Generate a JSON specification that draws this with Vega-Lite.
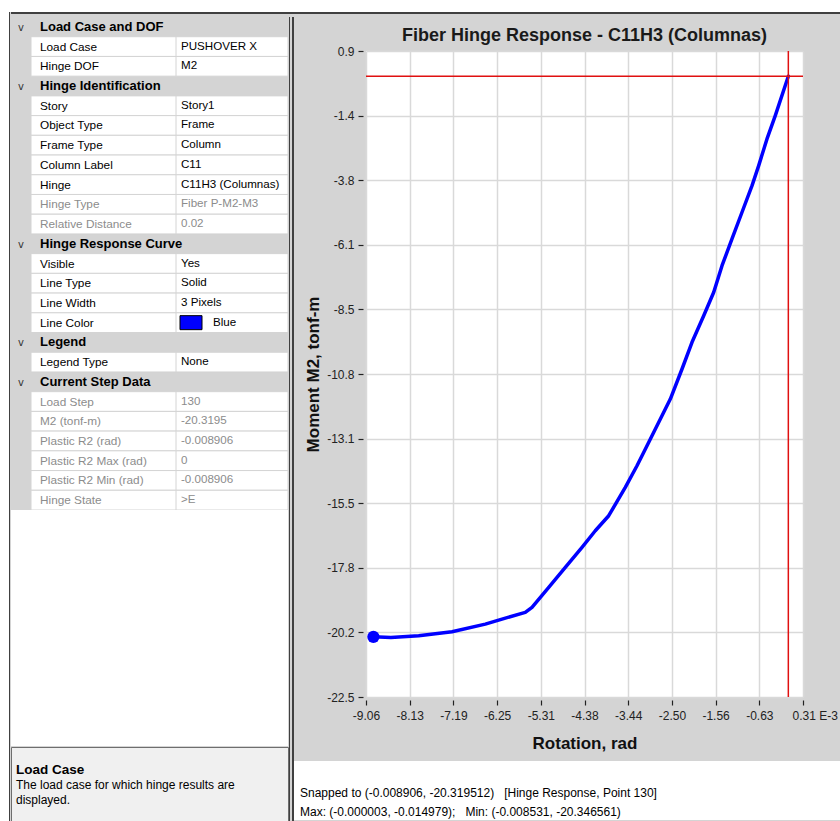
{
  "$schema": "https://vega.github.io/schema/vega-lite/v6.json",
  "background": "#d4d4d4",
  "padding": 0,
  "config": {
    "view": {"stroke": null},
    "concat": {"spacing": 0},
    "font": "Liberation Sans",
    "locale": {"number": {"decimal": ".", "thousands": ",", "grouping": [3], "currency": ["$", ""], "minus": "-"}}
  },
  "datasets": {
    "blank": [{}],
    "grid": [
      {"row": 1, "kind": "header", "name": "Load Case and DOF", "value": ""},
      {"row": 2, "kind": "item", "name": "Load Case", "value": "PUSHOVER X"},
      {"row": 3, "kind": "item", "name": "Hinge DOF", "value": "M2"},
      {"row": 4, "kind": "header", "name": "Hinge Identification", "value": ""},
      {"row": 5, "kind": "item", "name": "Story", "value": "Story1"},
      {"row": 6, "kind": "item", "name": "Object Type", "value": "Frame"},
      {"row": 7, "kind": "item", "name": "Frame Type", "value": "Column"},
      {"row": 8, "kind": "item", "name": "Column Label", "value": "C11"},
      {"row": 9, "kind": "item", "name": "Hinge", "value": "C11H3 (Columnas)"},
      {"row": 10, "kind": "readonly", "name": "Hinge Type", "value": "Fiber P-M2-M3"},
      {"row": 11, "kind": "readonly", "name": "Relative Distance", "value": "0.02"},
      {"row": 12, "kind": "header", "name": "Hinge Response Curve", "value": ""},
      {"row": 13, "kind": "item", "name": "Visible", "value": "Yes"},
      {"row": 14, "kind": "item", "name": "Line Type", "value": "Solid"},
      {"row": 15, "kind": "item", "name": "Line Width", "value": "3 Pixels"},
      {"row": 16, "kind": "item", "name": "Line Color", "value": "Blue"},
      {"row": 17, "kind": "header", "name": "Legend", "value": ""},
      {"row": 18, "kind": "item", "name": "Legend Type", "value": "None"},
      {"row": 19, "kind": "header", "name": "Current Step Data", "value": ""},
      {"row": 20, "kind": "readonly", "name": "Load Step", "value": "130"},
      {"row": 21, "kind": "readonly", "name": "M2 (tonf-m)", "value": "-20.3195"},
      {"row": 22, "kind": "readonly", "name": "Plastic R2 (rad)", "value": "-0.008906"},
      {"row": 23, "kind": "readonly", "name": "Plastic R2 Max (rad)", "value": "0"},
      {"row": 24, "kind": "readonly", "name": "Plastic R2 Min (rad)", "value": "-0.008906"},
      {"row": 25, "kind": "readonly", "name": "Hinge State", "value": ">E"}
    ],
    "curve": [
      {"rot": -0.003, "m2": -0.015},
      {"rot": -0.283, "m2": -1.441},
      {"rot": -0.461, "m2": -2.285},
      {"rot": -0.639, "m2": -3.252},
      {"rot": -0.782, "m2": -3.977},
      {"rot": -0.997, "m2": -4.941},
      {"rot": -1.212, "m2": -5.908},
      {"rot": -1.426, "m2": -6.876},
      {"rot": -1.604, "m2": -7.84},
      {"rot": -1.819, "m2": -8.688},
      {"rot": -2.07, "m2": -9.651},
      {"rot": -2.284, "m2": -10.619},
      {"rot": -2.535, "m2": -11.706},
      {"rot": -2.821, "m2": -12.673},
      {"rot": -3.035, "m2": -13.398},
      {"rot": -3.25, "m2": -14.123},
      {"rot": -3.501, "m2": -14.905},
      {"rot": -3.857, "m2": -15.934},
      {"rot": -4.145, "m2": -16.478},
      {"rot": -4.43, "m2": -17.079},
      {"rot": -4.788, "m2": -17.804},
      {"rot": -5.144, "m2": -18.529},
      {"rot": -5.503, "m2": -19.253},
      {"rot": -5.647, "m2": -19.435},
      {"rot": -6.146, "m2": -19.677},
      {"rot": -6.505, "m2": -19.859},
      {"rot": -7.219, "m2": -20.138},
      {"rot": -7.934, "m2": -20.282},
      {"rot": -8.531, "m2": -20.347},
      {"rot": -8.906, "m2": -20.3195}
    ],
    "current": [{"rot": -8.906, "m2": -20.3195}],
    "cross": [{"rot": -0.003, "m2": -0.014979}],
    "help": [
      {"line": 1, "bold": true, "text": "Load Case"},
      {"line": 2, "bold": false, "text": "The load case for which hinge results are"},
      {"line": 3, "bold": false, "text": "displayed."}
    ],
    "status": [
      {"line": 1, "text": "Snapped to (-0.008906, -20.319512)\u00a0\u00a0 [Hinge Response, Point 130]"},
      {"line": 2, "text": "Max: (-0.000003, -0.014979);\u00a0\u00a0 Min: (-0.008531, -20.346561)"}
    ]
  },
  "spacing": 0,
  "vconcat": [
    {
      "width": 840, "height": 12,
      "view": {"fill": "white", "stroke": null},
      "data": {"name": "blank"},
      "mark": {"type": "point", "size": 0, "opacity": 0}
    },
    {
      "spacing": 0,
      "hconcat": [
        {
          "width": 9, "height": 809,
          "view": {"fill": "white", "stroke": null},
          "data": {"name": "blank"},
          "mark": {"type": "point", "size": 0, "opacity": 0}
        },
        {
          "width": 1, "height": 809,
          "view": {"fill": "#404040", "stroke": null},
          "data": {"name": "blank"},
          "mark": {"type": "point", "size": 0, "opacity": 0}
        },
        {
          "spacing": 0,
          "vconcat": [
            {
              "width": 830, "height": 2,
              "view": {"fill": "#404040", "stroke": null},
              "data": {"name": "blank"},
              "mark": {"type": "point", "size": 0, "opacity": 0}
            },
            {
              "width": 830, "height": 3,
              "data": {"name": "blank"},
              "mark": {"type": "point", "size": 0, "opacity": 0}
            },
            {
              "spacing": 0,
              "hconcat": [
                {
                  "spacing": 0,
                  "vconcat": [
                    {
                      "spacing": 0,
                      "bounds": "flush",
                      "hconcat": [
                        {
                          "width": 20, "height": {"step": 19.72},
                          "data": {"name": "grid"},
                          "mark": {"type": "text", "font": "DejaVu Sans", "fontSize": 10, "color": "#333333", "baseline": "middle", "dy": 1},
                          "encoding": {
                            "y": {"field": "row", "type": "ordinal", "axis": null, "scale": {"type": "band", "domain": [1,2,3,4,5,6,7,8,9,10,11,12,13,14,15,16,17,18,19,20,21,22,23,24,25], "paddingInner": 0, "paddingOuter": 0}},
                            "text": {"condition": {"test": "datum.kind == 'header'", "value": "v"}, "value": ""}
                          }
                        },
                        {
                          "width": 145, "height": {"step": 19.72},
                          "data": {"name": "grid"},
                          "encoding": {
                            "y": {"field": "row", "type": "ordinal", "axis": null, "scale": {"type": "band", "domain": [1,2,3,4,5,6,7,8,9,10,11,12,13,14,15,16,17,18,19,20,21,22,23,24,25], "paddingInner": 0, "paddingOuter": 0}}
                          },
                          "layer": [
                            {
                              "transform": [{"filter": "datum.kind != 'header'"}],
                              "mark": {"type": "rect", "fill": "white", "stroke": "#d4d4d4", "strokeWidth": 1, "clip": true}
                            },
                            {
                              "transform": [{"filter": "datum.kind != 'header'"}],
                              "mark": {"type": "text", "align": "left", "baseline": "middle", "dx": 9, "fontSize": 11.8, "font": "Liberation Sans"},
                              "encoding": {
                                "x": {"datum": 0, "type": "quantitative", "scale": {"domain": [0, 1]}, "axis": null},
                                "text": {"field": "name"},
                                "color": {"condition": {"test": "datum.kind == 'readonly'", "value": "#8c8c8c"}, "value": "#000000"}
                              }
                            },
                            {
                              "transform": [{"filter": "datum.kind == 'header'"}],
                              "mark": {"type": "text", "align": "left", "baseline": "middle", "dx": 9, "fontSize": 13, "fontWeight": "bold", "font": "Liberation Sans", "color": "#000000"},
                              "encoding": {
                                "x": {"datum": 0, "type": "quantitative", "scale": {"domain": [0, 1]}, "axis": null},
                                "text": {"field": "name"}
                              }
                            }
                          ]
                        },
                        {
                          "width": 112, "height": {"step": 19.72},
                          "data": {"name": "grid"},
                          "encoding": {
                            "y": {"field": "row", "type": "ordinal", "axis": null, "scale": {"type": "band", "domain": [1,2,3,4,5,6,7,8,9,10,11,12,13,14,15,16,17,18,19,20,21,22,23,24,25], "paddingInner": 0, "paddingOuter": 0}}
                          },
                          "layer": [
                            {
                              "transform": [{"filter": "datum.kind != 'header'"}],
                              "mark": {"type": "rect", "fill": "white", "stroke": "#d4d4d4", "strokeWidth": 1, "clip": true}
                            },
                            {
                              "transform": [{"filter": "datum.kind != 'header' && datum.name != 'Line Color'"}],
                              "mark": {"type": "text", "align": "left", "baseline": "middle", "dx": 5, "fontSize": 11.6, "font": "Liberation Sans"},
                              "encoding": {
                                "x": {"datum": 0, "type": "quantitative", "scale": {"domain": [0, 1]}, "axis": null},
                                "text": {"field": "value"},
                                "color": {"condition": {"test": "datum.kind == 'readonly'", "value": "#8c8c8c"}, "value": "#000000"}
                              }
                            },
                            {
                              "transform": [{"filter": "datum.name == 'Line Color'"}],
                              "mark": {"type": "point", "shape": "M0.4,-0.7H2.6V0.7H0.4Z", "size": 400, "filled": true, "fill": "#0000ff", "stroke": "#000000", "strokeWidth": 1, "opacity": 1},
                              "encoding": {
                                "x": {"datum": 0, "type": "quantitative", "scale": {"domain": [0, 1]}, "axis": null}
                              }
                            },
                            {
                              "transform": [{"filter": "datum.name == 'Line Color'"}],
                              "mark": {"type": "text", "align": "left", "baseline": "middle", "dx": 37, "fontSize": 11.6, "font": "Liberation Sans", "color": "#000000"},
                              "encoding": {
                                "x": {"datum": 0, "type": "quantitative", "scale": {"domain": [0, 1]}, "axis": null},
                                "text": {"field": "value"}
                              }
                            }
                          ]
                        }
                      ]
                    },
                    {
                      "width": 277, "height": 236,
                      "view": {"fill": "white", "stroke": null},
                      "data": {"name": "blank"},
                      "mark": {"type": "point", "size": 0, "opacity": 0}
                    },
                    {
                      "width": 277, "height": 75,
                      "view": {"fill": "#f0f0f0", "stroke": "#6e6e6e", "strokeWidth": 1},
                      "data": {"name": "help"},
                      "encoding": {
                        "y": {"field": "line", "type": "ordinal", "axis": null, "scale": {"type": "band", "domain": [0, 1, 2, 3, 4], "paddingInner": 0, "paddingOuter": 0}},
                        "x": {"datum": 0, "type": "quantitative", "scale": {"domain": [0, 1]}, "axis": null}
                      },
                      "layer": [
                        {
                          "transform": [{"filter": "datum.bold"}],
                          "mark": {"type": "text", "align": "left", "baseline": "middle", "dx": 5, "fontSize": 13.5, "fontWeight": "bold", "font": "Liberation Sans", "color": "#000000"},
                          "encoding": {"text": {"field": "text"}}
                        },
                        {
                          "transform": [{"filter": "!datum.bold"}],
                          "mark": {"type": "text", "align": "left", "baseline": "middle", "dx": 5, "fontSize": 12, "font": "Liberation Sans", "color": "#000000"},
                          "encoding": {"text": {"field": "text"}}
                        }
                      ]
                    }
                  ]
                },
                {
                  "width": 1, "height": 804,
                  "view": {"fill": "#404040", "stroke": null},
                  "data": {"name": "blank"},
                  "mark": {"type": "point", "size": 0, "opacity": 0}
                },
                {
                  "width": 2, "height": 804,
                  "data": {"name": "blank"},
                  "mark": {"type": "point", "size": 0, "opacity": 0}
                },
                {
                  "width": 2, "height": 804,
                  "view": {"fill": "#404040", "stroke": null},
                  "data": {"name": "blank"},
                  "mark": {"type": "point", "size": 0, "opacity": 0}
                },
                {
                  "spacing": 10,
                  "vconcat": [
                    {
                      "spacing": 0,
                      "vconcat": [
                        {
                          "spacing": 0,
                          "bounds": "flush",
                          "hconcat": [
                            {
                              "width": 72, "height": 28,
                              "data": {"name": "blank"},
                              "mark": {"type": "point", "size": 0, "opacity": 0}
                            },
                            {
                              "width": 437, "height": 28,
                              "data": {"values": [{"title": "Fiber Hinge Response - C11H3 (Columnas)"}]},
                              "mark": {"type": "text", "fontSize": 18, "fontWeight": "bold", "font": "Liberation Sans", "color": "#1a1a1a", "align": "center", "baseline": "middle", "dy": 5},
                              "encoding": {"text": {"field": "title"}}
                            }
                          ]
                        },
                        {
                          "spacing": 0,
                          "bounds": "flush",
                          "hconcat": [
                            {
                              "width": 72, "height": 10,
                              "data": {"name": "blank"},
                              "mark": {"type": "point", "size": 0, "opacity": 0}
                            },
                            {
                              "width": 437, "height": 646,
                              "view": {"fill": "white", "stroke": null},
                              "layer": [
                                {
                                  "data": {"name": "curve"},
                                  "mark": {"type": "line", "color": "#0000ff", "strokeWidth": 3.5, "strokeJoin": "round", "strokeCap": "round"},
                                  "encoding": {
                                    "x": {
                                      "field": "rot", "type": "quantitative",
                                      "scale": {"domain": [-9.0645, 0.3117], "nice": false, "zero": false},
                                      "axis": {
                                        "title": "Rotation, rad",
                                        "values": [-9.0645, -8.1269, -7.1893, -6.2516, -5.314, -4.3764, -3.4388, -2.5012, -1.5635, -0.6259, 0.3117],
                                        "format": ".2f",
                                        "labelExpr": "datum.value > 0.3 ? datum.label + ' E-3' : datum.label",
                                        "labelAlign": {"condition": {"test": "datum.value > 0.3", "value": "left"}, "value": "center"},
                                        "labelOffset": {"condition": {"test": "datum.value > 0.3", "value": -11}, "value": 0},
                                        "labelFlush": false, "labelOverlap": false,
                                        "grid": true, "gridColor": "#d9d9d9", "gridWidth": 1.5,
                                        "domain": false, "tickColor": "#222222", "tickSize": 5, "tickWidth": 1.2, "offset": 3,
                                        "labelFont": "Liberation Sans", "labelFontSize": 12, "labelColor": "#222222", "labelPadding": 5,
                                        "titleFont": "Liberation Sans", "titleFontSize": 17, "titleFontWeight": "bold", "titleColor": "#111111", "titlePadding": 14
                                      }
                                    },
                                    "y": {
                                      "field": "m2", "type": "quantitative",
                                      "scale": {"domain": [-22.5, 0.9], "nice": false, "zero": false},
                                      "axis": {
                                        "title": "Moment M2, tonf-m",
                                        "values": [0.9, -1.44, -3.78, -6.12, -8.46, -10.8, -13.14, -15.48, -17.82, -20.16, -22.5],
                                        "format": ".1f",
                                        "labelFlush": false, "labelOverlap": false,
                                        "grid": true, "gridColor": "#d9d9d9", "gridWidth": 1.5,
                                        "domain": false, "tickColor": "#222222", "tickSize": 5, "tickWidth": 1.2, "offset": 3,
                                        "labelFont": "Liberation Sans", "labelFontSize": 12, "labelColor": "#222222", "labelPadding": 4,
                                        "titleFont": "Liberation Sans", "titleFontSize": 17, "titleFontWeight": "bold", "titleColor": "#111111", "titlePadding": 4
                                      }
                                    }
                                  }
                                },
                                {
                                  "data": {"name": "current"},
                                  "mark": {"type": "circle", "color": "#0000ff", "opacity": 1, "size": 150},
                                  "encoding": {
                                    "x": {"field": "rot", "type": "quantitative"},
                                    "y": {"field": "m2", "type": "quantitative"}
                                  }
                                },
                                {
                                  "data": {"name": "cross"},
                                  "mark": {"type": "rule", "color": "#e01010", "strokeWidth": 1.5},
                                  "encoding": {"y": {"field": "m2", "type": "quantitative"}}
                                },
                                {
                                  "data": {"name": "cross"},
                                  "mark": {"type": "rule", "color": "#e01010", "strokeWidth": 1.5},
                                  "encoding": {"x": {"field": "rot", "type": "quantitative"}}
                                }
                              ]
                            }
                          ]
                        }
                      ]
                    },
                    {
                      "width": 548, "height": 59,
                      "view": {"fill": "white", "stroke": null},
                      "data": {"name": "status"},
                      "mark": {"type": "text", "align": "left", "baseline": "middle", "dx": 6, "dy": 2, "fontSize": 12, "font": "Liberation Sans", "color": "#000000"},
                      "encoding": {
                        "y": {"field": "line", "type": "ordinal", "axis": null, "scale": {"type": "band", "domain": [0, 1, 2], "paddingInner": 0, "paddingOuter": 0}},
                        "x": {"datum": 0, "type": "quantitative", "scale": {"domain": [0, 1]}, "axis": null},
                        "text": {"field": "text"}
                      }
                    }
                  ]
                }
              ]
            }
          ]
        }
      ]
    }
  ]
}
